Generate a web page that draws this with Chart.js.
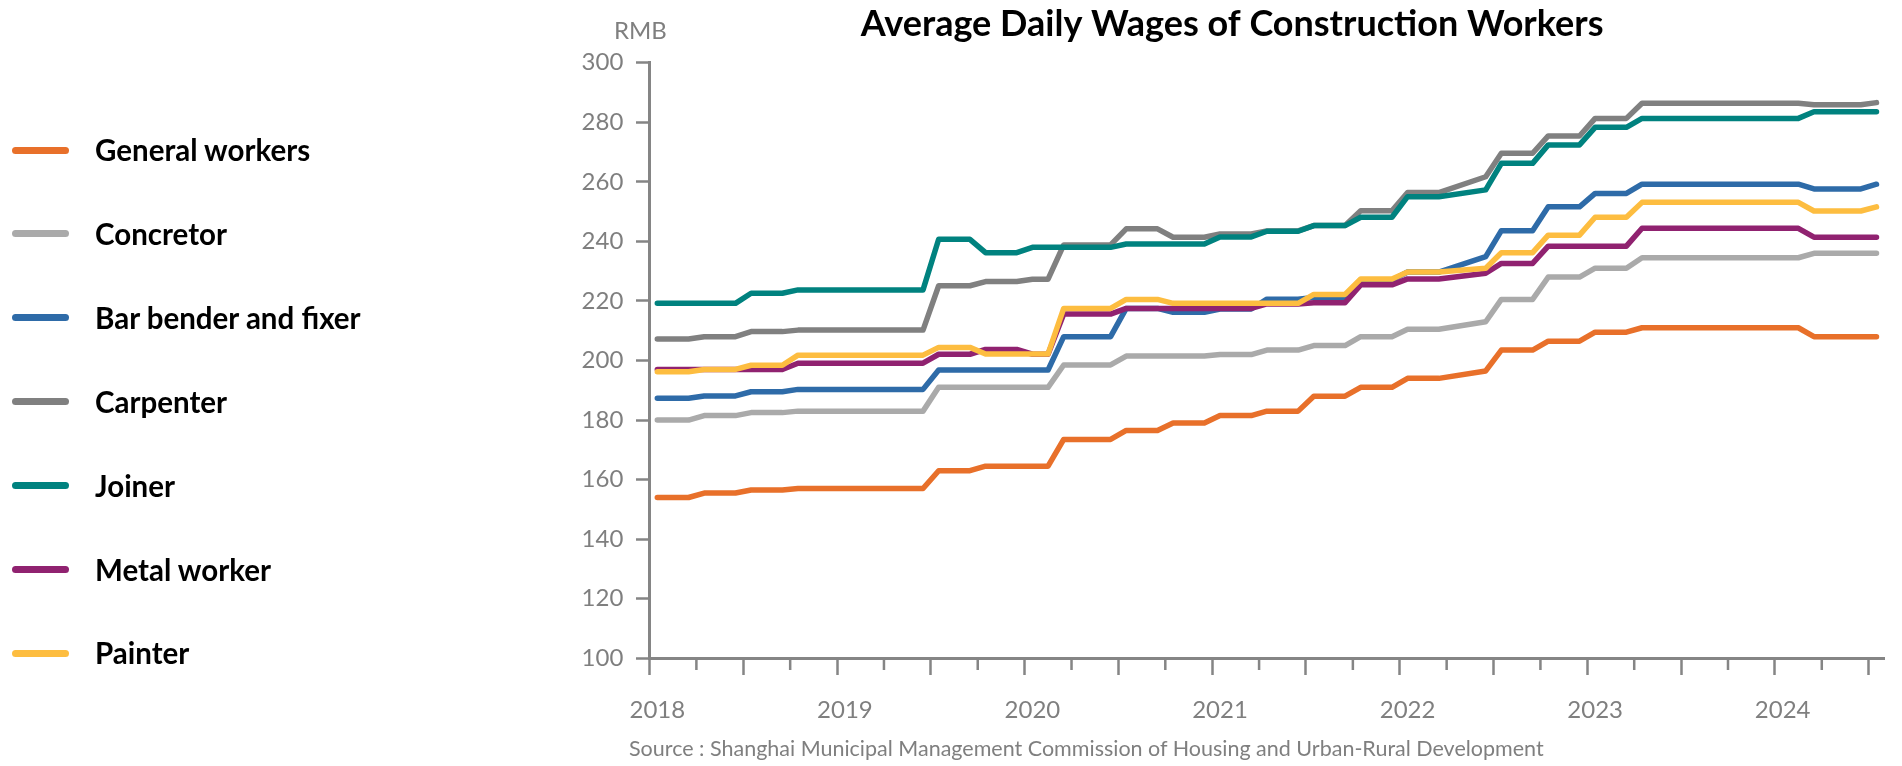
<!DOCTYPE html>
<html>
<head>
<meta charset="utf-8">
<title>Average Daily Wages of Construction Workers</title>
<script src="https://cdn.jsdelivr.net/npm/chart.js@4.4.1/dist/chart.umd.min.js"></script>
<style>
  html, body { margin: 0; padding: 0; background: #fff; }
  #wrap { position: relative; width: 1902px; height: 766px; overflow: hidden; font-family: Lato, 'Noto Sans', sans-serif; }
  #chart { position: absolute; left: 0; top: 0; }
  .legend-item { position: absolute; left: 0; width: 560px; height: 0; }
  .legend-swatch { position: absolute; left: 12px; top: -3.5px; width: 57px; height: 7px; border-radius: 3.5px; }
  .legend-label { position: absolute; left: 95px; top: 0; transform: translateY(-50%); font-weight: 700; font-size: 29.5px; line-height: 1; color: #000; white-space: nowrap; }
  .note { position: absolute; color: #7f7f7f; white-space: nowrap; line-height: 1; transform: translateY(-50%); }
  #unit { left: 614px; top: 30px; font-size: 24px; }
  #source { left: 629px; top: 749px; font-size: 21.5px; }
</style>
</head>
<body>
<div id="wrap">
  <canvas id="chart" width="1902" height="766"></canvas>
  <div id="legend"></div>
  <div class="note" id="unit">RMB</div>
  <div class="note" id="source">Source : Shanghai Municipal Management Commission of Housing and Urban-Rural Development</div>
</div>
<script>
// ─── Datos ────────────────────────────────────────────────────
const years = ['2018', '2019', '2020', '2021', '2022', '2023', '2024'];

// one category per month, Jan 2018 – Jul 2024
const months = [];
years.forEach(y => {
  for (let m = 1; m <= 12; m++) months.push(y + '-' + String(m).padStart(2, '0'));
});
months.length = 79;

const seriesNames = ['General workers', 'Concretor', 'Bar bender and fixer', 'Carpenter', 'Joiner', 'Metal worker', 'Painter'];

// RMB per day; Apr–May 2022 have no value (line spans the gap)
const generalWorkers = [154,154,154,155.5,155.5,155.5,156.5,156.5,156.5,157,157,157,157,157,157,157,157,157,163,163,163,164.5,164.5,164.5,164.5,164.5,173.5,173.5,173.5,173.5,176.5,176.5,176.5,179,179,179,181.5,181.5,181.5,183,183,183,188,188,188,191,191,191,194,194,194,null,null,196.5,203.5,203.5,203.5,206.5,206.5,206.5,209.5,209.5,209.5,211,211,211,211,211,211,211,211,211,211,211,208,208,208,208,208];
const concretor = [180,180,180,181.5,181.5,181.5,182.5,182.5,182.5,183,183,183,183,183,183,183,183,183,191,191,191,191,191,191,191,191,198.5,198.5,198.5,198.5,201.5,201.5,201.5,201.5,201.5,201.5,202,202,202,203.5,203.5,203.5,205,205,205,208,208,208,210.5,210.5,210.5,null,null,213,220.5,220.5,220.5,228,228,228,231,231,231,234.5,234.5,234.5,234.5,234.5,234.5,234.5,234.5,234.5,234.5,234.5,236,236,236,236,236];
const barBender = [187.3,187.3,187.3,188.1,188.1,188.1,189.5,189.5,189.5,190.3,190.3,190.3,190.3,190.3,190.3,190.3,190.3,190.3,196.8,196.8,196.8,196.8,196.8,196.8,196.8,196.8,208,208,208,208,217.5,217.5,217.5,216.2,216.2,216.2,217.3,217.3,217.3,220.6,220.6,220.6,221.2,221.2,221.2,227,227,227,229.7,229.7,229.7,null,null,234.9,243.6,243.6,243.6,251.6,251.6,251.6,256.1,256.1,256.1,259.2,259.2,259.2,259.2,259.2,259.2,259.2,259.2,259.2,259.2,259.2,257.6,257.6,257.6,257.6,259.2];
const carpenter = [207.2,207.2,207.2,208,208,208,209.7,209.7,209.7,210.2,210.2,210.2,210.2,210.2,210.2,210.2,210.2,210.2,225.1,225.1,225.1,226.5,226.5,226.5,227.3,227.3,238.8,238.8,238.8,238.8,244.2,244.2,244.2,241.4,241.4,241.4,242.5,242.5,242.5,243.5,243.5,243.5,245.3,245.3,245.3,250.3,250.3,250.3,256.4,256.4,256.4,null,null,261.7,269.6,269.6,269.6,275.4,275.4,275.4,281.3,281.3,281.3,286.4,286.4,286.4,286.4,286.4,286.4,286.4,286.4,286.4,286.4,286.4,285.9,285.9,285.9,285.9,286.6];
const joiner = [219.2,219.2,219.2,219.2,219.2,219.2,222.6,222.6,222.6,223.7,223.7,223.7,223.7,223.7,223.7,223.7,223.7,223.7,240.7,240.7,240.7,236.2,236.2,236.2,238,238,238,238,238,238,239.1,239.1,239.1,239.1,239.1,239.1,241.5,241.5,241.5,243.4,243.4,243.4,245.3,245.3,245.3,248.1,248.1,248.1,255,255,255,null,null,257.3,266.2,266.2,266.2,272.4,272.4,272.4,278.3,278.3,278.3,281.3,281.3,281.3,281.3,281.3,281.3,281.3,281.3,281.3,281.3,281.3,283.5,283.5,283.5,283.5,283.5];
const metalWorker = [197,197,197,197,197,197,197,197,197,199.1,199.1,199.1,199.1,199.1,199.1,199.1,199.1,199.1,202.1,202.1,202.1,203.7,203.7,203.7,202.1,202.1,215.6,215.6,215.6,215.6,217.5,217.5,217.5,217.5,217.5,217.5,217.5,217.5,217.5,219,219,219,219.4,219.4,219.4,225.4,225.4,225.4,227.4,227.4,227.4,null,null,229.3,232.6,232.6,232.6,238.4,238.4,238.4,238.4,238.4,238.4,244.4,244.4,244.4,244.4,244.4,244.4,244.4,244.4,244.4,244.4,244.4,241.4,241.4,241.4,241.4,241.4];
const painter = [196.2,196.2,196.2,197,197,197,198.4,198.4,198.4,201.8,201.8,201.8,201.8,201.8,201.8,201.8,201.8,201.8,204.4,204.4,204.4,202.2,202.2,202.2,202.2,202.2,217.5,217.5,217.5,217.5,220.5,220.5,220.5,219.2,219.2,219.2,219.2,219.2,219.2,219.2,219.2,219.2,222.2,222.2,222.2,227.4,227.4,227.4,229.7,229.7,229.7,null,null,231,236.2,236.2,236.2,242.1,242.1,242.1,248.1,248.1,248.1,253.1,253.1,253.1,253.1,253.1,253.1,253.1,253.1,253.1,253.1,253.1,250.2,250.2,250.2,250.2,251.6];

const yTicks = [100, 120, 140, 160, 180, 200, 220, 240, 260, 280, 300];

// ─── Estilos ──────────────────────────────────────────────────
const COLORS = ['#e8702a', '#aaaaaa', '#2e6ba8', '#808080', '#00827f', '#902270', '#fdbd40'];
const AXIS = '#858585';
const TEXT = '#7f7f7f';

Chart.defaults.font.family = "Lato, 'Noto Sans', sans-serif";
Chart.defaults.color = TEXT;

// short ticks for April / October
const quarterTicks = {
  id: 'quarterTicks',
  afterDraw(chart) {
    const x = chart.scales.x;
    const ctx = chart.ctx;
    const half = (x.getPixelForValue(1) - x.getPixelForValue(0)) / 2;
    ctx.save();
    ctx.strokeStyle = AXIS;
    ctx.lineWidth = 2.5;
    ctx.beginPath();
    months.forEach((m, i) => {
      if (i % 6 !== 3) return;
      const px = x.getPixelForValue(i) - half;
      ctx.moveTo(px, x.top);
      ctx.lineTo(px, x.top + 11.7);
    });
    ctx.stroke();
    ctx.restore();
  }
};

const values = [generalWorkers, concretor, barBender, carpenter, joiner, metalWorker, painter];

const chart = new Chart(document.getElementById('chart'), {
  type: 'line',
  data: {
    labels: months,
    datasets: seriesNames.map((name, i) => ({
      label: name,
      data: values[i],
      borderColor: COLORS[i],
      backgroundColor: COLORS[i],
      borderWidth: 5.5,
      pointRadius: 0,
      tension: 0,
      spanGaps: true,
      borderCapStyle: 'round',
      borderJoinStyle: 'round',
      order: seriesNames.length - i,
    }))
  },
  options: {
    responsive: false,
    animation: false,
    layout: { padding: { left: 580, right: 17.7, top: 0, bottom: 41.7 } },
    plugins: {
      legend: { display: false },
      tooltip: { enabled: false },
      title: {
        display: true,
        text: 'Average Daily Wages of Construction Workers',
        color: '#000',
        font: { size: 36, weight: 'bold' },
        padding: { top: 2.8, bottom: 16.7 },
      },
    },
    scales: {
      x: {
        offset: true,
        afterFit: s => { s.height = 66; },
        border: { display: true, color: AXIS, width: 3 },
        grid: {
          offset: true,
          drawOnChartArea: false,
          drawTicks: true,
          tickLength: 16.7,
          tickWidth: 2.5,
          tickColor: ctx => (ctx.index % 6 === 0 && ctx.index < months.length) ? AXIS : 'transparent',
        },
        ticks: {
          autoSkip: false,
          maxRotation: 0,
          padding: 20.6,
          color: TEXT,
          font: { size: 24 },
          callback: (v, i) => i % 12 === 0 ? years[i / 12] : '',
        },
      },
      y: {
        min: 100,
        max: 300,
        afterFit: s => { s.width = 69.5; },
        afterBuildTicks: s => { s.ticks = yTicks.map(v => ({ value: v })); },
        border: { display: true, color: AXIS, width: 3 },
        grid: {
          drawOnChartArea: false,
          drawTicks: true,
          tickLength: 13.5,
          tickWidth: 2.5,
          tickColor: AXIS,
        },
        ticks: { padding: 12.7, color: TEXT, font: { size: 24 } },
      },
    },
  },
  plugins: [quarterTicks],
});

// ─── Leyenda ──────────────────────────────────────────────────
const legend = document.getElementById('legend');
chart.data.datasets.forEach((ds, i) => {
  const item = document.createElement('div');
  item.className = 'legend-item';
  item.style.top = (150 + i * 83.9) + 'px';
  item.innerHTML = '<div class="legend-swatch" style="background:' + ds.borderColor + '"></div>' +
    '<div class="legend-label">' + ds.label + '</div>';
  legend.appendChild(item);
});
</script>
</body>
</html>
